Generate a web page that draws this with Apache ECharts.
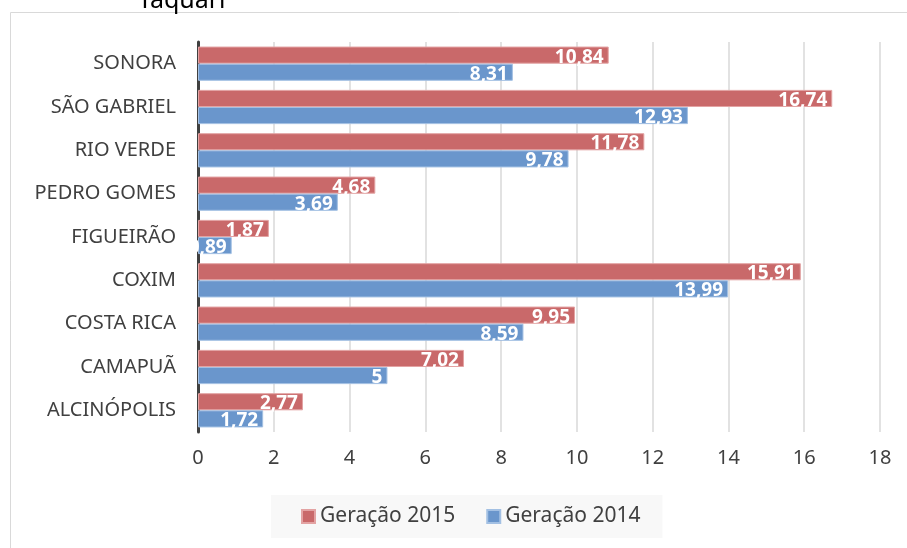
<!DOCTYPE html>
<html>
<head>
<meta charset="utf-8">
<script src="https://cdn.jsdelivr.net/npm/echarts@6/dist/echarts.min.js"></script>
<style>
  html, body { margin: 0; padding: 0; background: #fff; }
  #chart { width: 907px; height: 548px; }
</style>
</head>
<body>
<div id="chart"></div>
<script>
  // categories, bottom to top
  const cities = ['ALCINÓPOLIS', 'CAMAPUÃ', 'COSTA RICA', 'COXIM', 'FIGUEIRÃO', 'PEDRO GOMES', 'RIO VERDE', 'SÃO GABRIEL', 'SONORA'];
  const geracao2015 = [2.77, 7.02, 9.95, 15.91, 1.87, 4.68, 11.78, 16.74, 10.84];
  const geracao2014 = [1.72, 5, 8.59, 13.99, 0.89, 3.69, 9.78, 12.93, 8.31];
  const xTicks = { min: 0, max: 18, step: 2 };

  const font = '"Noto Sans", sans-serif';
  const comma = v => String(v).replace('.', ',');

  const chart = echarts.init(document.getElementById('chart'));

  const label = {
    show: true,
    position: 'insideRight',
    color: '#fff',
    fontWeight: 'bold',
    fontSize: 19,
    fontFamily: font,
    offset: [0, 2],
    formatter: p => comma(p.value)
  };

  chart.setOption({
    animation: false,
    title: {
      text: 'Taquari',
      left: 133,
      top: -17,
      textStyle: { fontSize: 25, fontWeight: 'normal', color: '#000', fontFamily: font }
    },
    graphic: [{
      type: 'rect',
      shape: { x: 10.5, y: 12.5, width: 1000, height: 1000 },
      style: { fill: 'none', stroke: '#d9d9d9', lineWidth: 1 },
      silent: true
    }],
    legend: {
      data: ['Geração 2015', 'Geração 2014'],
      left: 271,
      top: 495,
      padding: [11, 22, 11, 30],
      backgroundColor: '#f8f8f8',
      itemGap: 31,
      itemWidth: 13,
      itemHeight: 13,
      icon: 'rect',
      textStyle: { fontSize: 21, color: '#404040', fontFamily: font }
    },
    grid: { left: 198, right: 27, top: 42, bottom: 116, containLabel: false },
    xAxis: {
      type: 'value',
      min: xTicks.min,
      max: xTicks.max,
      interval: xTicks.step,
      axisLine: { show: false },
      axisTick: { show: false },
      splitLine: { lineStyle: { color: '#d9d9d9', width: 1.5 } },
      axisLabel: { fontSize: 20, color: '#404040', fontFamily: font, margin: 16 }
    },
    yAxis: {
      type: 'category',
      data: cities,
      axisLine: { lineStyle: { color: '#404040', width: 3 } },
      axisTick: { show: false },
      axisLabel: { fontSize: 20, color: '#404040', fontFamily: font, margin: 22 }
    },
    series: [
      {
        name: 'Geração 2015',
        type: 'bar',
        data: geracao2015,
        barGap: '0%',
        barCategoryGap: '21%',
        itemStyle: { color: '#c9696a', borderColor: '#e3a3a3', borderWidth: 1 },
        label: label
      },
      {
        name: 'Geração 2014',
        type: 'bar',
        data: geracao2014,
        barGap: '0%',
        barCategoryGap: '21%',
        itemStyle: { color: '#6a96cc', borderColor: '#a3c0e3', borderWidth: 1 },
        label: label
      }
    ]
  });
</script>
</body>
</html>
